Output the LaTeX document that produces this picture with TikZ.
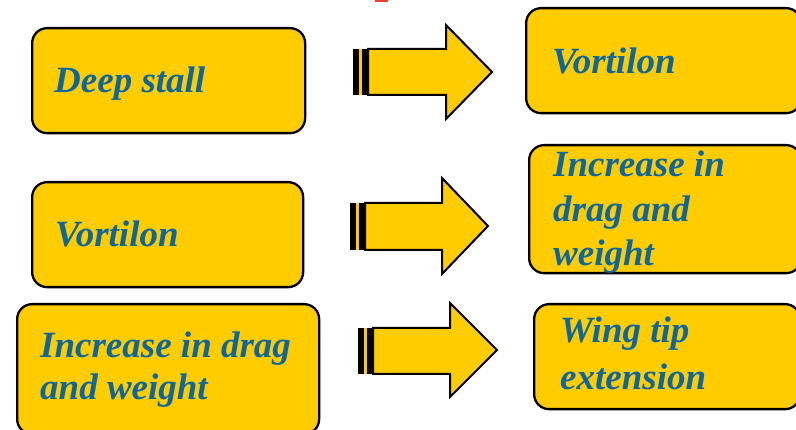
\documentclass[tikz,border=0pt]{standalone}
\usepackage{fontspec}
\setmainfont{Liberation Serif}
\definecolor{boxfill}{HTML}{FFCC00}
\definecolor{labelblue}{RGB}{14,102,158}
\definecolor{markred}{RGB}{240,60,50}

% block arrow with striped tail: name, tail x, shaft top, shaft bottom,
% head base x, head top, tip x, tip y, head bottom
\newcommand\blockarrow[9]{%
  \fill[boxfill] (#2,#3) rectangle (#2+16,#4);
  \fill[black] (#2,#3) rectangle (#2+6,#4);
  \fill[black] (#2+9,#3) rectangle (#2+15,#4);
  \draw[arrowline] (#2+15,#3) -- (#5,#3) -- (#5,#6) -- (#7,#8)
    coordinate (#1) -- (#5,#9) -- (#5,#4) -- (#2+15,#4) -- cycle;
}

\begin{document}
\begin{tikzpicture}[x=1pt,y=-1pt,
  box/.style={draw=black, line width=2.3pt, fill=boxfill,
    rounded corners=15pt, anchor=north west, inner sep=0pt},
  lbl/.style={anchor=base west, inner sep=0pt, text=labelblue,
    font=\fontsize{37}{44}\selectfont\bfseries\itshape},
  arrowline/.style={draw=black, line width=2pt, fill=boxfill, line join=miter}]
\useasboundingbox (0,0) rectangle (796,430);

% small red mark at the top edge
\fill[markred] (375,0) rectangle (388,2);

% left column
\node[box, minimum width=273pt, minimum height=105pt] (stall) at (31,27) {};
\node[box, minimum width=271pt, minimum height=105pt] (vortL) at (31,181) {};
\node[box, minimum width=302pt, minimum height=130pt] (dragL) at (16,303) {};

% right column
\node[box, minimum width=275pt, minimum height=105pt] (vortR) at (525,7) {};
\node[box, minimum width=272pt, minimum height=128pt] (dragR) at (528,144) {};
\node[box, minimum width=266pt, minimum height=105pt] (wing) at (533,303) {};

% labels
\node[lbl] (t1) at (54,93) {Deep stall};
\node[lbl] (t2) at (552,74) {Vortilon};
\node[lbl] (t3) at (55,247) {Vortilon};
\node[lbl] (t4a) at (553,177) {Increase in};
\node[lbl] (t4b) at (553,222) {drag and};
\node[lbl] (t4c) at (553,266) {weight};
\node[lbl] (t5a) at (40,358) {Increase in drag};
\node[lbl] (t5b) at (40,400) {and weight};
\node[lbl] (t6a) at (560,343) {Wing tip};
\node[lbl] (t6b) at (560,390) {extension};

% block arrows between the columns
\blockarrow{a1}{353}{49}{95}{446}{25}{492}{72}{119}
\blockarrow{a2}{350}{203}{250}{442}{178}{488}{226}{274}
\blockarrow{a3}{358}{328}{374}{450}{303}{497}{350}{397}
\end{tikzpicture}
\end{document}
